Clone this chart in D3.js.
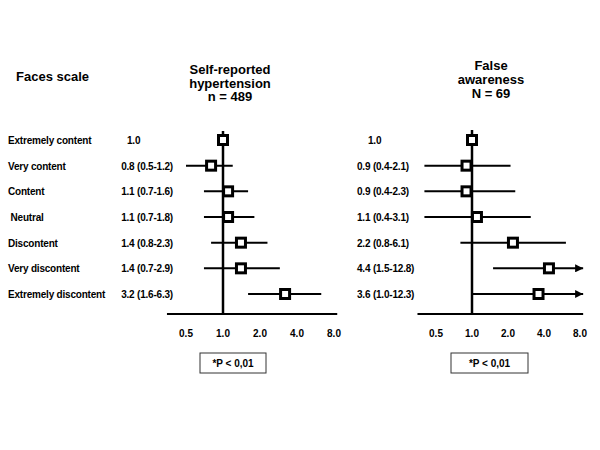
<!DOCTYPE html>
<html><head><meta charset="utf-8">
<script src="https://cdn.jsdelivr.net/npm/d3@7"></script>
<style>
body{margin:0;background:#fff;}
text{font-family:"Liberation Sans",Arial,sans-serif;font-weight:bold;fill:#000;white-space:pre;}
</style></head>
<body><svg id="c" width="600" height="450"></svg>
<script>
const categories = ["Extremely content","Very content","Content"," Neutral","Discontent","Very discontent","Extremely discontent"];
const hypOR = [1.0,0.8,1.1,1.1,1.4,1.4,3.2];
const hypLo = [null,0.5,0.7,0.7,0.8,0.7,1.6];
const hypHi = [null,1.2,1.6,1.8,2.3,2.9,6.3];
const awOR  = [1.0,0.9,0.9,1.1,2.2,4.4,3.6];
const awLo  = [null,0.4,0.4,0.4,0.8,1.5,1.0];
const awHi  = [null,2.1,2.3,3.1,6.1,12.8,12.3];
const tickValues = [0.5,1,2,4,8];
const tickLabels = ["0.5","1.0","2.0","4.0","8.0"];
const hypTitle = ["Self-reported","hypertension","n = 489"];
const awTitle = ["False","awareness","N = 69"];
const pNote = "*P < 0,01";
const axisExtent = [0.35, 8.5];

const svg = d3.select("#c");
const defs = svg.append("defs");
defs.append("marker").attr("id","arr").attr("viewBox","0 0 10 10").attr("refX",10).attr("refY",5)
  .attr("markerWidth",4).attr("markerHeight",4).attr("markerUnits","strokeWidth").attr("orient","auto")
  .append("path").attr("d","M0,0L10,5L0,10Z").attr("fill","#000");

const y = d3.scalePoint().domain(categories).range([140,294]);

svg.append("text").attr("x",16).attr("y",81).attr("font-size",13).text("Faces scale");
svg.selectAll(".cat").data(categories).join("text").attr("class","cat")
  .attr("x",8).attr("y",d=>y(d)+4).attr("font-size",10).attr("letter-spacing",-0.2).text(d=>d);

function fmt(o,l,h){ return l==null ? o.toFixed(1) : `${o.toFixed(1)} (${l.toFixed(1)}-${h.toFixed(1)})`; }

function panel(cfg){
  const x = d3.scaleLog().base(2).domain([0.5,8]).range(cfg.range);
  const g = svg.append("g");
  // title
  cfg.title.forEach((t,i)=>g.append("text").attr("x",cfg.titleX).attr("y",cfg.titleY+i*cfg.titleStep)
    .attr("text-anchor","middle").attr("font-size",13).text(t));
  // value labels
  categories.forEach((c,i)=>{
    const s = fmt(cfg.or[i],cfg.lo[i],cfg.hi[i]);
    const t = g.append("text").attr("y",y(c)+4).attr("font-size",10).attr("letter-spacing",-0.2).text(s);
    if(cfg.lo[i]==null) t.attr("x",cfg.refX);
    else if(cfg.align==="end") t.attr("x",cfg.valX).attr("text-anchor","end");
    else t.attr("x",cfg.valX);
  });
  // axis line
  g.append("line").attr("x1",x(axisExtent[0])).attr("x2",x(axisExtent[1]))
    .attr("y1",cfg.axisY).attr("y2",cfg.axisY).attr("stroke","#000").attr("stroke-width",2.2);
  // ticks labels
  g.selectAll(".tk").data(tickValues).join("text").attr("x",d=>x(d)).attr("y",cfg.axisY+23)
    .attr("text-anchor","middle").attr("font-size",10).text((d,i)=>tickLabels[i]);
  // vertical reference line
  g.append("line").attr("x1",x(1)).attr("x2",x(1)).attr("y1",cfg.vTop).attr("y2",cfg.axisY)
    .attr("stroke","#000").attr("stroke-width",2.5);
  // whiskers
  categories.forEach((c,i)=>{
    if(cfg.lo[i]==null) return;
    const over = cfg.hi[i] > axisExtent[1];
    const l = g.append("line").attr("x1",x(cfg.lo[i])).attr("x2",x(Math.min(cfg.hi[i],axisExtent[1])))
      .attr("y1",y(c)).attr("y2",y(c)).attr("stroke","#000").attr("stroke-width",2);
    if(over) l.attr("marker-end","url(#arr)");
  });
  // markers
  g.selectAll(".m").data(categories).join("rect").attr("class","m")
    .attr("x",(d,i)=>x(cfg.or[i])-4.5).attr("y",d=>y(d)-4.5).attr("width",9).attr("height",9)
    .attr("fill","#fff").attr("stroke","#000").attr("stroke-width",3);
  // p note
  const bx = cfg.boxX, bw = cfg.boxW;
  g.append("rect").attr("x",bx).attr("y",353).attr("width",bw).attr("height",20)
    .attr("fill","#fff").attr("stroke","#333").attr("stroke-width",1);
  g.append("text").attr("x",bx+bw/2).attr("y",367).attr("text-anchor","middle").attr("font-size",10).text(pNote);
}

panel({range:[186,334], title:hypTitle, titleX:230, titleY:74, titleStep:13.7,
  or:hypOR, lo:hypLo, hi:hypHi, align:"end", valX:173, refX:127, axisY:314, vTop:131, boxX:200, boxW:66});
panel({range:[436,580], title:awTitle, titleX:491, titleY:70, titleStep:14,
  or:awOR, lo:awLo, hi:awHi, align:"start", valX:357, refX:368, axisY:314, vTop:130, boxX:451, boxW:77});
</script></body></html>
